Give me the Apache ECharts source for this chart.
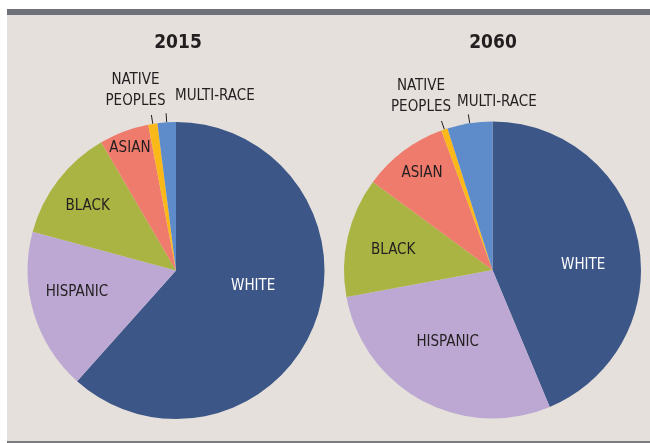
<!DOCTYPE html>
<html>
<head>
<meta charset="utf-8">
<script src="https://cdn.jsdelivr.net/npm/echarts@6/dist/echarts.min.js"></script>
<style>
  html, body { margin: 0; padding: 0; background: #fff; }
  #panel {
    position: absolute; left: 7px; top: 9px; width: 643px; height: 426px;
    background: #e5e0db; border-top: 6px solid #6e717a; border-bottom: 2px solid #7a7b80;
  }
  #chart { position: absolute; left: 0; top: 0; width: 650px; height: 443px; }
</style>
</head>
<body>
<div id="panel"></div>
<div id="chart"></div>
<script>
// 人口构成（百分比）
const groups = ['WHITE', 'HISPANIC', 'BLACK', 'ASIAN', 'NATIVE\nPEOPLES', 'MULTI-RACE']
const years = ['2015', '2060']
const share2015 = [61.6, 17.6, 12.4, 5.4, 1.0, 2.0]
const share2060 = [43.7, 28.4, 13.0, 9.3, 0.7, 4.9]

const colors = ['#3c5688', '#bca8d2', '#a9b443', '#ef7b6d', '#fbb819', '#5e8bca']
const font = "'Liberation Sans Narrow', 'DejaVu Sans Condensed', 'Roboto Condensed', 'Arial Narrow', sans-serif"

const centers = [[176, 270.5], [492.5, 270]]
const radius = 148.5

// inside labels: nudge from the default half-radius spot
const insideNudge = [
  [[5, -12], [-25, 0], [-27, -17], [-19, -50]],
  [[15, 10], [-8, 4], [-24, -3], [-24, -35]]
]
// outside labels: anchor relative to pie centre
const outsideAnchor = [
  { 4: [-40.5, -158.5, 'center'], 5: [-1, -163.5, 'left'] },
  { 4: [-71.5, -152.5, 'center'], 5: [-35.5, -157, 'left'] }
]

function buildData(values) {
  return values.map(function (v, i) {
    const outside = i >= 4
    return {
      name: groups[i],
      value: v,
      itemStyle: { color: colors[i] },
      label: {
        position: outside ? 'outside' : 'inside',
        color: i === 0 ? '#ffffff' : '#231f20'
      },
      labelLine: { show: outside }
    }
  })
}

function makeLayout(s) {
  return function (params) {
    const i = params.dataIndex
    const out = outsideAnchor[s][i]
    if (out) {
      const res = {
        x: centers[s][0] + out[0],
        y: centers[s][1] + out[1],
        align: out[2],
        verticalAlign: 'bottom'
      }
      // 保留默认的径向引导线
      if (params.labelLinePoints) res.labelLinePoints = params.labelLinePoints
      return res
    }
    const n = insideNudge[s][i]
    return { dx: n[0], dy: n[1] }
  }
}

const allValues = [share2015, share2060]
const series = allValues.map(function (values, s) {
  return {
    type: 'pie',
    center: centers[s],
    radius: radius,
    startAngle: 90,
    clockwise: true,
    animation: false,
    silent: true,
    avoidLabelOverlap: false,
    data: buildData(values),
    label: {
      show: true,
      formatter: '{b}',
      fontFamily: font,
      fontSize: 15,
      lineHeight: 21,
      align: 'center'
    },
    labelLine: {
      length: 9,
      length2: 0,
      lineStyle: { color: '#231f20', width: 1 }
    },
    labelLayout: makeLayout(s)
  }
})

const myChart = echarts.init(document.getElementById('chart'))
myChart.setOption({
  backgroundColor: 'transparent',
  title: years.map(function (y, s) {
    return {
      text: y,
      left: s === 0 ? 173 : 488,
      top: 29,
      textAlign: 'center',
      textStyle: { fontFamily: font, fontSize: 19, fontWeight: 'bold', color: '#231f20' }
    }
  }),
  series: series
})
</script>
</body>
</html>
